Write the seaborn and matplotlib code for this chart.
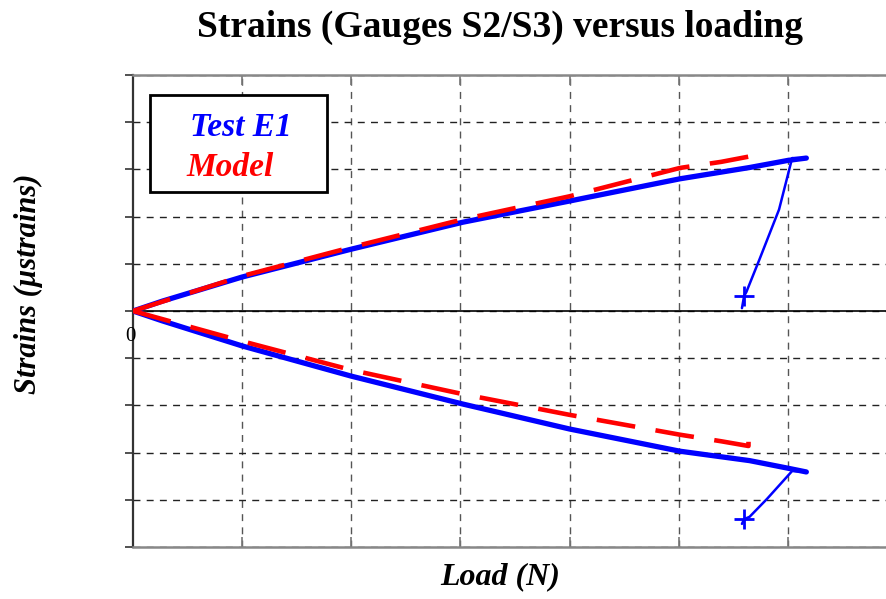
import matplotlib
matplotlib.use("Agg")
import matplotlib.pyplot as plt
import seaborn as sns
from matplotlib.patches import Rectangle

# ---- data (load in grid units, strain in grid units) ----
load_test_up = [0.0, 0.27, 1.0, 2.0, 3.02, 4.0, 5.01, 5.65, 6.0, 6.17]
strain_s2_test = [0.0, 0.21, 0.72, 1.31, 1.88, 2.33, 2.80, 3.04, 3.19, 3.24]
strain_s3_test = [0.0, -0.21, -0.74, -1.38, -1.97, -2.50, -2.97, -3.17, -3.33, -3.41]

load_s2_unload = [6.17, 6.04, 5.92, 5.74, 5.62, 5.60, 5.58]
strain_s2_unload = [3.24, 3.24, 2.15, 1.09, 0.40, 0.32, 0.06]
load_s3_unload = [6.17, 6.04, 5.81, 5.65, 5.60, 5.58]
strain_s3_unload = [-3.41, -3.39, -3.98, -4.36, -4.41, -4.51]

marker_load = [5.60, 5.60]
marker_strain = [0.32, -4.41]

load_model = [0.0, 1.0, 2.0, 3.02, 4.0, 5.01, 5.39, 5.64, 5.64]
strain_s2_model = [0.0, 0.74, 1.35, 1.94, 2.43, 3.03, 3.16, 3.27, 2.92]
strain_s3_model = [0.0, -0.64, -1.25, -1.76, -2.20, -2.62, -2.76, -2.86, -2.65]

x_ticks = [0, 1, 2, 3, 4, 5, 6]
y_ticks = [-5, -4, -3, -2, -1, 0, 1, 2, 3, 4, 5]

sns.set_theme(style="white")
plt.rcParams['font.family'] = ['Liberation Serif', 'DejaVu Serif']
plt.rcParams['text.color'] = 'black'

fig = plt.figure(figsize=(8.86, 5.99), dpi=100)
ax = fig.add_axes([133/886, 1-547/599, 753/886, 472/599])

# model (red dashed)
for s in (strain_s2_model, strain_s3_model):
    sns.lineplot(x=load_model, y=s, color='#ff0000', lw=3.3, sort=False,
                 estimator=None, ax=ax, linestyle=(0, (8.5, 4.5)), zorder=4)
# test (blue)
for s in (strain_s2_test, strain_s3_test):
    sns.lineplot(x=load_test_up, y=s, color='#0000ff', lw=3.8, sort=False,
                 estimator=None, ax=ax, zorder=3)
sns.lineplot(x=load_s2_unload, y=strain_s2_unload, color='#0000ff', lw=1.8,
             sort=False, estimator=None, ax=ax, zorder=3)
sns.lineplot(x=load_s3_unload, y=strain_s3_unload, color='#0000ff', lw=1.8,
             sort=False, estimator=None, ax=ax, zorder=3)
sns.scatterplot(x=marker_load, y=marker_strain, marker='+', s=200,
                color='#0000ff', linewidth=2, ax=ax, zorder=3)

ax.set_xlim(0, 6.9)
ax.set_ylim(-5, 5)
ax.set_xticks(x_ticks[1:])
ax.set_yticks(y_ticks)
ax.set_xlabel('')
ax.set_ylabel('')
ax.xaxis.grid(True, color='#555555', ls=(0, (5, 4.5)), lw=1.0)
ax.yaxis.grid(True, color='#222222', ls=(0, (5, 4.5)), lw=1.0)
ax.axhline(0, color='black', lw=1.2, zorder=2)

ax.tick_params(axis='x', direction='in', top=True, bottom=True, length=7,
               color='#777777', width=1.2, labelbottom=False)
ax.tick_params(axis='y', direction='out', left=True, length=6,
               color='#333333', width=1.2, labelleft=False)
ax.spines['right'].set_visible(False)
ax.spines['left'].set_color('#333333')
ax.spines['left'].set_linewidth(1.6)
for sp in ('top', 'bottom'):
    ax.spines[sp].set_color('#888888')
    ax.spines[sp].set_linewidth(1.8)

ax.text(-0.02, -0.53, '0', ha='center', va='center', fontsize=15, color='black')

# legend box
ax.add_patch(Rectangle(((150-133)/753, (547-192)/472), 177/753, 97/472,
                       transform=ax.transAxes, fill=True, facecolor='white',
                       edgecolor='black', lw=2, zorder=6))
ax.text((241-133)/753, (547-128)/472, 'Test E1', transform=ax.transAxes,
        ha='center', va='center', color='#0000ff', fontsize=24,
        fontweight='bold', fontstyle='italic', zorder=7)
ax.text((230-133)/753, (547-168)/472, 'Model', transform=ax.transAxes,
        ha='center', va='center', color='#ff0000', fontsize=24,
        fontweight='bold', fontstyle='italic', zorder=7)

fig.text(500/886, 1-27/599, 'Strains (Gauges S2/S3) versus loading',
         ha='center', va='center', fontsize=27, fontweight='bold')
fig.text(500/886, 1-577/599, 'Load (N)', ha='center', va='center',
         fontsize=23, fontweight='bold', fontstyle='italic')
fig.text(28/886, 1-284/599, 'Strains (\u00b5strains)', ha='center', va='center',
         rotation=90, fontsize=22, fontweight='bold', fontstyle='italic')

fig.savefig('out.png', dpi=100)
